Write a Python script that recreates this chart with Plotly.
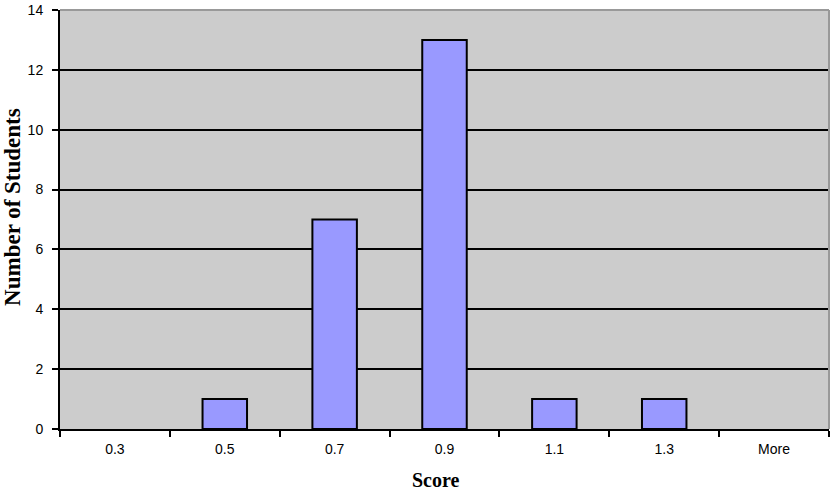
import plotly.graph_objects as go

# histogram bins and counts
bins = ['0.3', '0.5', '0.7', '0.9', '1.1', '1.3', 'More']
students = [0, 1, 7, 13, 1, 1, 0]
y_ticks = [0, 2, 4, 6, 8, 10, 12, 14]

# empty bins get no outline, like in the original
outline = [2 if v > 0 else 0 for v in students]

fig = go.Figure()
fig.add_trace(go.Bar(x=bins, y=students,
                     marker=dict(color='#9999ff', line=dict(color='black', width=outline))))

fig.update_layout(width=830, height=498,
                  margin=dict(l=60, r=1, t=10, b=69),
                  paper_bgcolor='white',
                  plot_bgcolor='#cccccc',
                  bargap=0.595,
                  showlegend=False,
                  font=dict(family='Liberation Sans, Arial', size=14, color='black'))

fig.update_xaxes(type='category',
                 showline=True, linecolor='black', linewidth=2,
                 ticks='outside', tickson='boundaries', ticklen=6, tickwidth=2, tickcolor='black',
                 ticklabelstandoff=6,
                 showgrid=False)

fig.update_yaxes(range=[0, 14], tickvals=y_ticks,
                 showline=True, linecolor='black', linewidth=2,
                 ticks='outside', ticklen=6, tickwidth=2, tickcolor='black',
                 ticklabelstandoff=6,
                 showgrid=True, gridcolor='black', gridwidth=2,
                 zeroline=False)

# axis titles as annotations so they can sit where the original has them
fig.add_annotation(text='<b>Score</b>', xref='paper', yref='paper', x=0.489, y=0,
                   yshift=-51, showarrow=False, yanchor='middle',
                   font=dict(family='Liberation Serif, Times New Roman', size=20))
fig.add_annotation(text='<b>Number of Students</b>', xref='paper', yref='paper', x=0, y=0.53,
                   xshift=-47, showarrow=False, textangle=-90, xanchor='center',
                   font=dict(family='Liberation Serif, Times New Roman', size=23))

# grey border along the top and right of the plot area
fig.add_shape(type='line', xref='paper', yref='paper', x0=0, x1=1, y0=1, y1=1,
              line=dict(color='#999999', width=2), layer='above')
fig.add_shape(type='line', xref='paper', yref='paper', x0=1, x1=1, y0=0, y1=1,
              line=dict(color='#999999', width=2), layer='above')

fig.write_html('out.html', config={'displayModeBar': False},
               post_script="document.body.style.margin='0';")
